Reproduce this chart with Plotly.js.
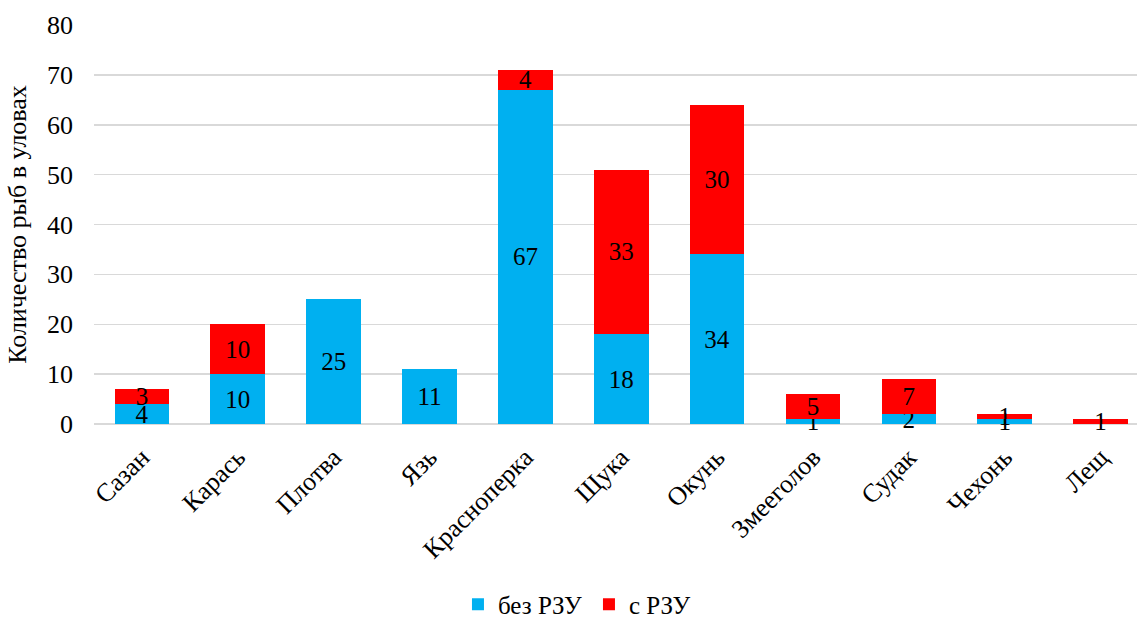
<!DOCTYPE html>
<html>
<head>
<meta charset="utf-8">
<script src="https://cdn.plot.ly/plotly-3.0.1.min.js"></script>
<style>
  html, body { margin: 0; padding: 0; background: #fff; }
  #chart { width: 1137px; height: 618px; }
</style>
</head>
<body>
<div id="chart"></div>
<script>
// Fish species caught
const species = ['Сазан', 'Карась', 'Плотва', 'Язь', 'Красноперка', 'Щука', 'Окунь', 'Змееголов', 'Судак', 'Чехонь', 'Лещ'];
// Catch counts without / with the fish protection device (РЗУ)
const withoutRZU = [4, 10, 25, 11, 67, 18, 34, 1, 2, 1, 0];
const withRZU    = [3, 10, 0, 0, 4, 33, 30, 5, 7, 1, 1];
const seriesNames = ['без РЗУ', 'с РЗУ'];
const yTicks = [0, 10, 20, 30, 40, 50, 60, 70, 80];

const FONT = 'Liberation Serif';
const labelsOf = arr => arr.map(v => (v > 0 ? String(v) : ''));

const common = {
  type: 'bar',
  x: species,
  textposition: 'inside',
  insidetextanchor: 'middle',
  constraintext: 'none',
  cliponaxis: false,
  textangle: 0,
  textfont: { family: FONT, size: 25, color: '#000' },
  hoverinfo: 'x+y+name'
};

const traces = [
  Object.assign({}, common, {
    name: seriesNames[0],
    y: withoutRZU,
    text: labelsOf(withoutRZU),
    marker: { color: '#00B0F0' }
  }),
  Object.assign({}, common, {
    name: seriesNames[1],
    y: withRZU,
    text: labelsOf(withRZU),
    marker: { color: '#FF0000' }
  })
];

const layout = {
  width: 1137,
  height: 618,
  barmode: 'stack',
  bargap: 0.43,
  paper_bgcolor: '#fff',
  plot_bgcolor: '#fff',
  font: { family: FONT, size: 26, color: '#000' },
  margin: { l: 94, r: 0, t: 24.5, b: 193.5, autoexpand: false },
  showlegend: true,
  legend: {
    orientation: 'h',
    xref: 'container',
    x: 0.518,
    xanchor: 'center',
    yref: 'container',
    y: 0.022,
    yanchor: 'middle',
    font: { family: FONT, size: 25, color: '#000' },
    itemwidth: 30,
    entrywidth: 86,
    entrywidthmode: 'pixels',
    traceorder: 'normal'
  },
  xaxis: {
    range: [-0.5, 10.38],
    tickangle: -45,
    tickfont: { family: FONT, size: 26, color: '#000' },
    ticklabelstandoff: 12,
    showgrid: false,
    showline: false,
    ticks: '',
    fixedrange: true
  },
  yaxis: {
    range: [0, 80],
    tickvals: yTicks,
    tickfont: { family: FONT, size: 26, color: '#000' },
    showgrid: true,
    gridcolor: '#d9d9d9',
    gridwidth: 1.5,
    zeroline: true,
    zerolinecolor: '#d9d9d9',
    zerolinewidth: 1.5,
    ticks: '',
    ticklabelstandoff: 20,
    title: {
      text: 'Количество рыб в уловах',
      font: { family: FONT, size: 26, color: '#000' },
      standoff: 12
    },
    fixedrange: true
  }
};

Plotly.newPlot('chart', traces, layout, { displayModeBar: false, staticPlot: true });
</script>
</body>
</html>
